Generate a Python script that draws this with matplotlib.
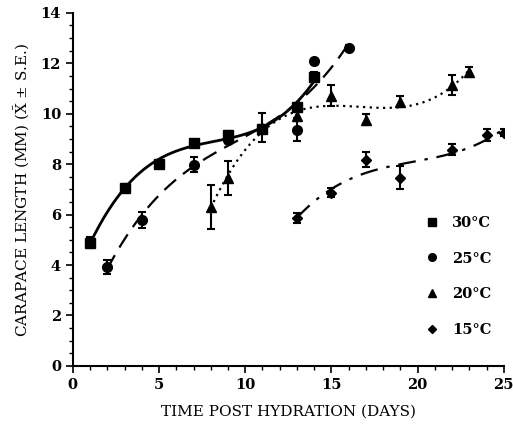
import numpy as np
import matplotlib
matplotlib.use("Agg")
import matplotlib.pyplot as plt
from matplotlib.lines import Line2D
from matplotlib.ticker import MultipleLocator

plt.rcParams['font.family'] = ['DejaVu Serif']
plt.rcParams['mathtext.fontset'] = 'dejavuserif'

# 30 C (squares)
day_30 = [1, 3, 5, 7, 9, 11, 13, 14]
len_30 = [4.88, 7.06, 8.02, 8.85, 9.15, 9.40, 10.25, 11.45]
se_30 = [0.22, 0.15, 0.12, 0.12, 0.15, 0.15, 0.15, 0.20]

# 25 C (circles)
day_25 = [2, 4, 7, 9, 13, 14, 16]
len_25 = [3.93, 5.80, 7.98, 8.97, 9.37, 12.08, 12.62]
se_25 = [0.28, 0.32, 0.30, 0.15, 0.45, 0.10, 0.10]

# 20 C (triangles)
day_20 = [8, 9, 11, 13, 15, 17, 19, 22, 23]
len_20 = [6.30, 7.46, 9.44, 9.90, 10.72, 9.76, 10.48, 11.15, 11.67]
se_20 = [0.87, 0.68, 0.58, 0.20, 0.40, 0.22, 0.22, 0.40, 0.20]

# 15 C (diamonds)
day_15 = [13, 15, 17, 19, 22, 24, 25]
len_15 = [5.87, 6.87, 8.17, 7.46, 8.57, 9.15, 9.25]
se_15 = [0.20, 0.18, 0.30, 0.45, 0.22, 0.25, 0.15]

series = [
    (day_30, len_30, se_30, 's', '-', '30°C', 7),
    (day_25, len_25, se_25, 'o', (0, (7, 4)), '25°C', 7),
    (day_20, len_20, se_20, '^', (0, (1, 2)), '20°C', 7),
    (day_15, len_15, se_15, 'D', (0, (8, 4, 1.5, 4)), '15°C', 5.5),
]

fig = plt.figure(figsize=(5.13, 4.28), dpi=100)
ax = fig.add_axes([0.142, 0.145, 0.840, 0.825])

handles = []
for d, v, e, m, ls, lab, ms in series:
    # cubic trend line through each series
    coef = np.polyfit(d, v, 3)
    xs = np.linspace(min(d), max(d), 200)
    ax.plot(xs, np.polyval(coef, xs), color='black', linestyle=ls,
            linewidth=2.0 if ls == '-' else 1.6)
    ax.errorbar(d, v, yerr=e, fmt=m, color='black', markersize=ms,
                capsize=3, elinewidth=1.5, capthick=1.5)
    handles.append(Line2D([], [], marker=m, color='black', linestyle='none',
                          markersize=ms - 1.5, label=lab))

ax.set_xlim(0, 25)
ax.set_ylim(0, 14)
ax.xaxis.set_major_locator(MultipleLocator(5))
ax.xaxis.set_minor_locator(MultipleLocator(1))
ax.yaxis.set_major_locator(MultipleLocator(2))
ax.yaxis.set_minor_locator(MultipleLocator(0.5))
ax.tick_params(which='major', direction='out', length=5, width=1.2,
               labelsize=10.5)
ax.tick_params(which='minor', direction='out', length=3, width=1)
for lbl in ax.get_xticklabels() + ax.get_yticklabels():
    lbl.set_fontweight('bold')
ax.spines['top'].set_visible(False)
ax.spines['right'].set_visible(False)
ax.spines['left'].set_linewidth(1.5)
ax.spines['bottom'].set_linewidth(1.5)

ax.set_xlabel('TIME POST HYDRATION (DAYS)', fontsize=11, labelpad=9)
ax.set_ylabel(r'CARAPACE LENGTH (MM) ($\bar{\mathrm{X}}$ $\pm$ S.E.)',
              fontsize=11, labelpad=6)

ax.legend(handles=handles, loc='upper left', bbox_to_anchor=(0.803, 0.442),
          frameon=False, labelspacing=1.5, handlelength=1.0,
          handletextpad=0.9, borderaxespad=0,
          prop={'size': 10.5, 'weight': 'bold'})

fig.savefig('out.png', dpi=100)
